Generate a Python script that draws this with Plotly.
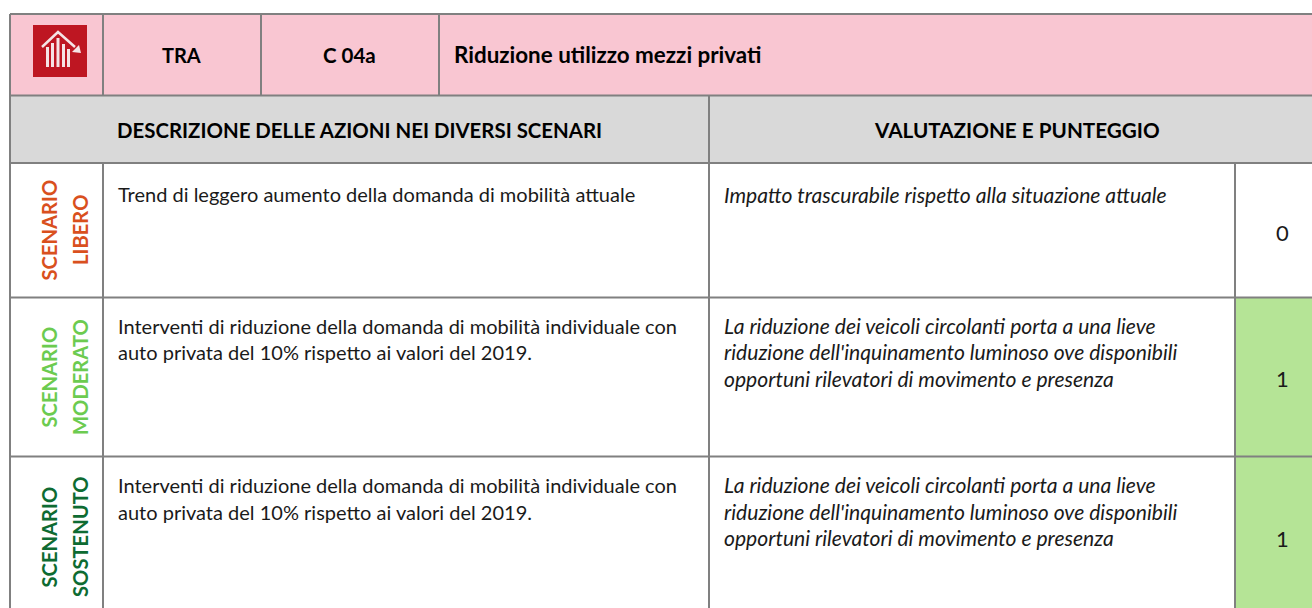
import plotly.graph_objects as go

header_labels = ["TRA", "C 04a", "Riduzione utilizzo mezzi privati"]
section_labels = ["DESCRIZIONE DELLE AZIONI NEI DIVERSI SCENARI", "VALUTAZIONE E PUNTEGGIO"]
scenario_lines = [["SCENARIO", "LIBERO"], ["SCENARIO", "MODERATO"], ["SCENARIO", "SOSTENUTO"]]
descriptions = [
    ["Trend di leggero aumento della domanda di mobilità attuale"],
    ["Interventi di riduzione della domanda di mobilità individuale con",
     "auto privata del 10% rispetto ai valori del 2019."],
    ["Interventi di riduzione della domanda di mobilità individuale con",
     "auto privata del 10% rispetto ai valori del 2019."],
]
evaluations = [
    ["Impatto trascurabile rispetto alla situazione attuale"],
    ["La riduzione dei veicoli circolanti porta a una lieve",
     "riduzione dell'inquinamento luminoso ove disponibili",
     "opportuni rilevatori di movimento e presenza"],
    ["La riduzione dei veicoli circolanti porta a una lieve",
     "riduzione dell'inquinamento luminoso ove disponibili",
     "opportuni rilevatori di movimento e presenza"],
]
scores = [0, 1, 1]
scenario_colors = ["#D9501E", "#6CCB50", "#0E6B32"]
score_fills = ["#FFFFFF", "#B5E496", "#B5E496"]

FONT = "Lato"
BORDER = "#808080"
PINK = "#F9C6D2"
GREY = "#D9D9D9"
RED = "#BE1622"

X = [10, 103, 261, 439, 709, 1235, 1312]
Y = [14, 95.5, 163, 297.5, 456.5, 608]

fig = go.Figure()
shapes, notes = [], []

def rect(x0, y0, x1, y1, fill):
    shapes.append(dict(type="rect", x0=x0, y0=y0, x1=x1, y1=y1, fillcolor=fill, line=dict(width=0), layer="below"))

def line(x0, y0, x1, y1):
    shapes.append(dict(type="line", x0=x0, y0=y0, x1=x1, y1=y1, line=dict(color=BORDER, width=2)))

def text(x, y, s, size=20, color="#1a1a1a", bold=False, italic=False, anchor="left", angle=0):
    if bold:
        s = f"<b>{s}</b>"
    if italic:
        s = f"<i>{s}</i>"
    notes.append(dict(x=x, y=y, text=s, showarrow=False, xanchor=anchor, yanchor="middle", textangle=angle,
                      font=dict(family=FONT, size=size, color=color)))

# fills
rect(X[0], Y[0], X[6], Y[1], PINK)
rect(X[0], Y[1], X[6], Y[2], GREY)
for i, fill in enumerate(score_fills):
    rect(X[5], Y[2 + i], X[6], Y[3 + i], fill)

# grid
for y in Y[:-1]:
    line(X[0], y, X[6], y)
line(X[0], Y[0], X[0], Y[5])
for x in X[1:4]:
    line(x, Y[0], x, Y[1])
line(X[4], Y[1], X[4], Y[5])
line(X[1], Y[2], X[1], Y[5])
line(X[5], Y[2], X[5], Y[5])

# icon
ICON = "#F5E3E5"
rect(33, 25, 87, 77, RED)
for bx, top in zip([46, 51, 56.5, 62, 67], [47, 43, 38, 44, 49]):
    rect(bx, top, bx + 3, 67, ICON)
shapes.append(dict(type="path", path="M 42 47 L 58 32 L 75 47", line=dict(color=ICON, width=2.5)))
shapes.append(dict(type="path", path="M 81 53 L 72 52 L 79 45 Z", fillcolor=ICON, line=dict(width=0)))

# header
text((X[1] + X[2]) / 2 - 1, 55, header_labels[0], size=20, bold=True, anchor="center", color="#000000")
text((X[2] + X[3]) / 2 - 1, 55, header_labels[1], size=20.5, bold=True, anchor="center", color="#000000")
text(451.5, 54.5, header_labels[2], size=22.4, bold=True, color="#000000")
text((X[0] + X[4]) / 2 - 0.5, 130, section_labels[0], size=20.4, bold=True, anchor="center", color="#000000")
text((X[4] + X[6]) / 2 + 6.5, 130, section_labels[1], size=20.7, bold=True, anchor="center", color="#000000")

# rows
centres = [230, 377, 537]
desc_y = [194, 325.5, 485]
eval_y = [194, 325, 484.5]
score_y = [232, 378.5, 538]
for i in range(3):
    for cx, s in zip([48.5, 80], scenario_lines[i]):
        text(cx, centres[i], s, size=20.2, bold=True, color=scenario_colors[i], anchor="center", angle=-90)
    for k, s in enumerate(descriptions[i]):
        text(116, desc_y[i] + 26.6 * k, s, size=20)
    for k, s in enumerate(evaluations[i]):
        text(722, eval_y[i] + 26.6 * k, s, size=21.1, italic=True)
    text((X[5] + X[6]) / 2 + 8.5, score_y[i], str(scores[i]), size=22, anchor="center")

fig.add_trace(go.Scatter(x=[0, 1312], y=[0, 608], mode="markers", marker=dict(opacity=0), hoverinfo="skip", showlegend=False))
fig.update_layout(
    width=1312, height=608, margin=dict(l=0, r=0, t=0, b=0),
    paper_bgcolor="white", plot_bgcolor="white",
    xaxis=dict(range=[0, 1312], visible=False, fixedrange=True),
    yaxis=dict(range=[608, 0], visible=False, fixedrange=True),
    shapes=shapes, annotations=notes,
)
fig.write_html("out.html", config={"displayModeBar": False},
               post_script="document.body.style.margin='0';document.body.style.overflow='hidden';")
